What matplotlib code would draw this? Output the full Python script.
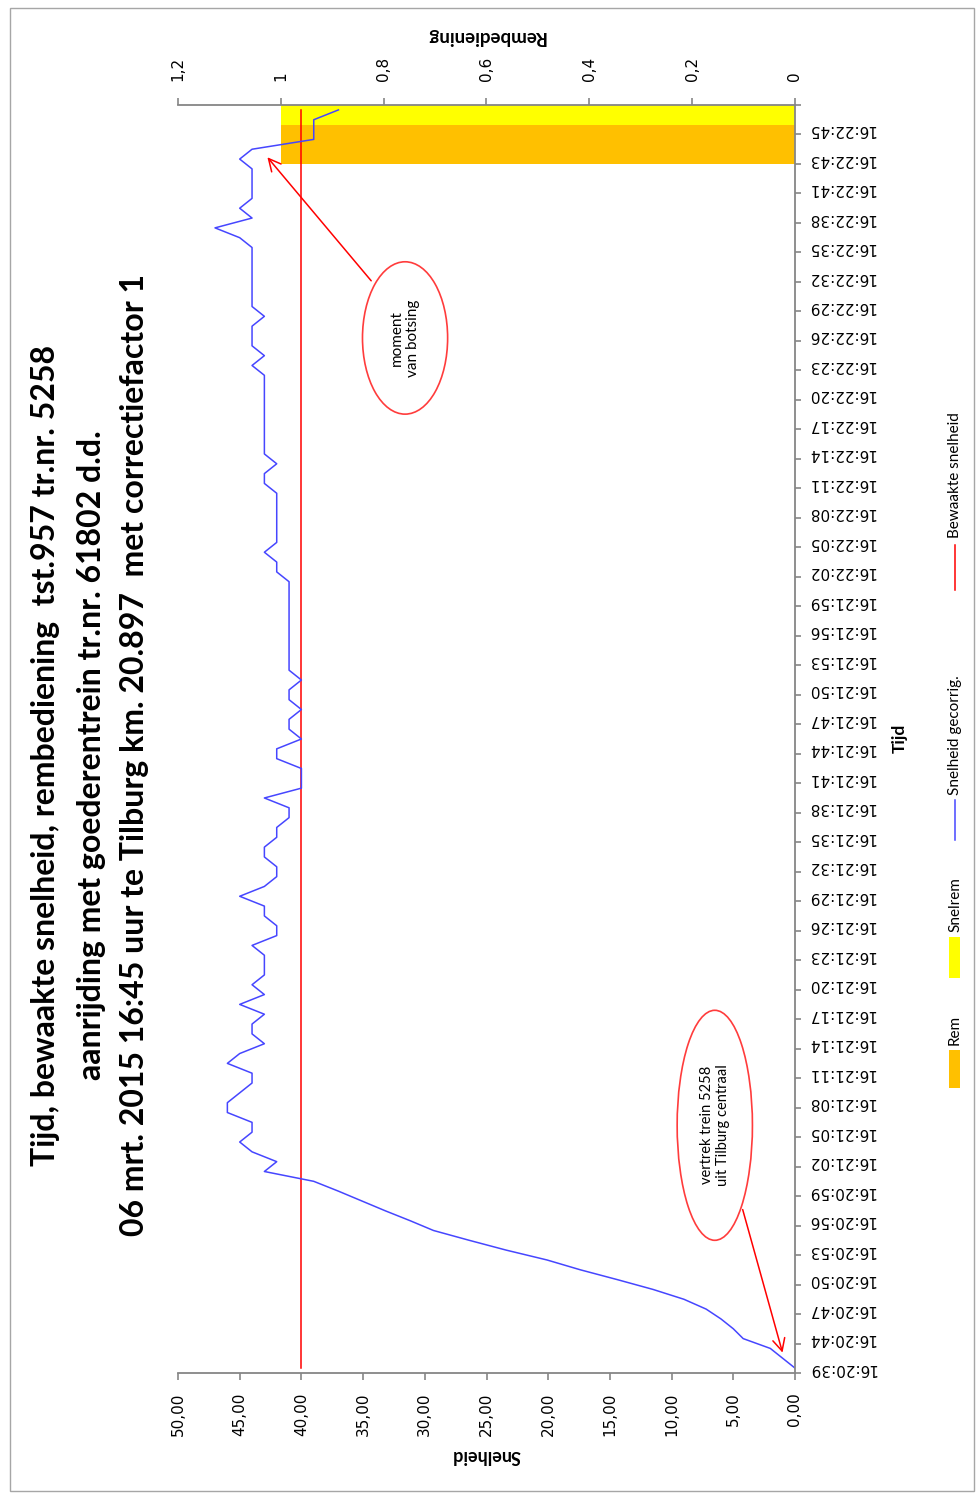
import matplotlib.pyplot as plt
from matplotlib.patches import Ellipse, Rectangle
from matplotlib.lines import Line2D
import numpy as np

# tijd-labels (elke 3e meting)
tijd_labels = ['16:20:39', '16:20:44', '16:20:47', '16:20:50', '16:20:53', '16:20:56', '16:20:59',
               '16:21:02', '16:21:05', '16:21:08', '16:21:11', '16:21:14', '16:21:17', '16:21:20',
               '16:21:23', '16:21:26', '16:21:29', '16:21:32', '16:21:35', '16:21:38', '16:21:41',
               '16:21:44', '16:21:47', '16:21:50', '16:21:53', '16:21:56', '16:21:59',
               '16:22:02', '16:22:05', '16:22:08', '16:22:11', '16:22:14', '16:22:17', '16:22:20',
               '16:22:23', '16:22:26', '16:22:29', '16:22:32', '16:22:35', '16:22:38', '16:22:41',
               '16:22:43', '16:22:45']

# snelheid gecorrigeerd, per meting
snelheid = [
    0.0, 1.0, 2.0, 4.2, 5.0, 6.0, 7.2, 9.0, 11.5, 14.4,
    17.4, 20.1, 23.4, 26.4, 29.3, 31.2, 33.2, 35.1, 37.0, 39.0,
    43, 42, 44, 45, 44, 44, 46, 46, 45, 44,
    44, 46, 45, 43, 44, 44, 43, 45, 43, 44,
    43, 43, 43, 44, 42, 42, 43, 43, 45, 43,
    42, 42, 43, 43, 42, 42, 41, 41, 43, 40,
    40, 40, 42, 42, 40, 41, 41, 40, 41, 41,
    40, 41, 41, 41, 41, 41, 41, 41, 41, 41,
    41, 42, 42, 43, 42, 42, 42, 42, 42, 42,
    43, 43, 42, 43, 43, 43, 43, 43, 43, 43,
    43, 43, 44, 43, 44, 44, 44, 43, 44, 44,
    44, 44, 44, 44, 44, 45, 47, 44, 45, 44,
    44, 44, 44, 45, 44, 39, 39, 39, 37,
]
bewaakt = [40.0] * len(snelheid)

# rembediening
rem_cat = [123, 124, 125, 126]
rem_val = [1, 1, 1, 1]
snelrem_cat = [127, 128]
snelrem_val = [1, 1]

snelheid_ticks = [0, 5, 10, 15, 20, 25, 30, 35, 40, 45, 50]
rem_ticks = [0, 0.2, 0.4, 0.6, 0.8, 1.0, 1.2]
rem_ticklabels = ['0', '0,2', '0,4', '0,6', '0,8', '1', '1,2']

W, H = 976, 1494


def fx(x):
    return x / W


def fy(y):
    return 1 - y / H


GRIJS = '#868686'
ORANJE = '#FFC000'
GEEL = '#FFFF00'
BLAUW = '#4646FF'
ROOD = '#FF0000'
FONT = ['Lato', 'DejaVu Sans']

fig = plt.figure(figsize=(W / 100, H / 100), dpi=100)
fig.patch.set_facecolor('white')

ax = fig.add_axes([fx(178), fy(1373), fx(795) - fx(178), fy(105) - fy(1373)])
ax2 = ax.twiny()
ax.set_zorder(ax2.get_zorder() + 1)
ax.patch.set_visible(False)

cat = np.arange(len(snelheid))

# balken rembediening (secundaire as)
ax2.barh(rem_cat, rem_val, height=1.0, color=ORANJE, linewidth=0)
ax2.barh(snelrem_cat, snelrem_val, height=1.0, color=GEEL, linewidth=0)
ax2.set_xlim(1.2, 0)
ax2.set_xticks(rem_ticks)
ax2.set_xticklabels(rem_ticklabels, rotation=90)

# lijnen snelheid
ax.plot(bewaakt, cat, color=ROOD, lw=1.1)
ax.plot(snelheid, cat, color=BLAUW, lw=1.1)
ax.set_xlim(50, 0)
ax.set_ylim(-0.5, len(snelheid) - 0.5)
ax.set_xticks(snelheid_ticks)
ax.set_xticklabels(['%d,00' % t for t in snelheid_ticks], rotation=90)

ax.yaxis.tick_right()
ax.set_yticks(np.arange(-0.5, len(snelheid), 3))
ax.set_yticklabels([])
ax.set_yticks(np.arange(0, len(snelheid), 3), minor=True)
ax.set_yticklabels(tijd_labels, minor=True, rotation=180, va='center')

for s in ['top', 'left']:
    ax.spines[s].set_visible(False)
for s in ['bottom', 'left', 'right']:
    ax2.spines[s].set_visible(False)
for sp in [ax.spines['bottom'], ax.spines['right'], ax2.spines['top']]:
    sp.set_color(GRIJS)
    sp.set_linewidth(1.3)

ax.tick_params(axis='x', direction='out', length=5, width=1.2, color=GRIJS, pad=9, labelsize=11)
ax.tick_params(axis='y', which='major', direction='out', length=4, width=1.2, color=GRIJS)
ax.tick_params(axis='y', which='minor', length=0, pad=9, labelsize=11)
ax2.tick_params(axis='x', direction='out', length=5, width=1.2, color=GRIJS, pad=12, labelsize=11)

# annotaties
e1 = Ellipse((31.6, 104.8), 6.9, 15.5, fill=False, edgecolor='#FF3C3C', lw=1.2, clip_on=False)
ax.add_patch(e1)
ax.text(31.6, 104.8, 'moment\nvan botsing', rotation=90, ha='center', va='center',
        multialignment='center', fontsize=11, family=FONT, linespacing=1.15)
ax.annotate('', xy=(42.9, 123.4), xytext=(34.2, 110.4),
            arrowprops=dict(arrowstyle='->', color=ROOD, lw=1.1, mutation_scale=22))

e2 = Ellipse((6.5, 24.7), 6.1, 23.4, fill=False, edgecolor='#FF3C3C', lw=1.2, clip_on=False)
ax.add_patch(e2)
ax.text(6.5, 24.7, 'vertrek trein 5258\nuit Tilburg centraal', rotation=90, ha='center',
        va='center', multialignment='center', fontsize=10.5, family=FONT, linespacing=1.15)
ax.annotate('', xy=(0.95, 1.3), xytext=(4.3, 16.4),
            arrowprops=dict(arrowstyle='->', color=ROOD, lw=1.1, mutation_scale=22))

# titel
titel = ['Tijd, bewaakte snelheid, rembediening  tst.957 tr.nr. 5258',
         'aanrijding met goederentrein tr.nr. 61802 d.d.',
         '06 mrt. 2015 16:45 uur te Tilburg km. 20.897  met correctiefactor 1']
for x, regel in zip([46, 92, 135], titel):
    fig.text(fx(x), fy(755), regel, rotation=90, ha='center', va='center',
             fontsize=23, fontweight='bold', family=FONT)

# aslabels
fig.text(fx(486), fy(1456), 'Snelheid', rotation=180, ha='center', va='center',
         fontsize=13, fontweight='bold', family=FONT)
fig.text(fx(486), fy(36), 'Rembediening', rotation=180, ha='center', va='center',
         fontsize=13.5, fontweight='bold', family=FONT)
fig.text(fx(900), fy(738), 'Tijd', rotation=90, ha='center', va='center',
         fontsize=12.5, fontweight='bold', family=FONT)

# legenda
fig.add_artist(Rectangle((fx(949), fy(1088)), fx(11), fy(1050) - fy(1088),
                         transform=fig.transFigure, color=ORANJE, lw=0))
fig.text(fx(955), fy(1045), 'Rem', rotation=90, rotation_mode='anchor', ha='left', va='center',
         fontsize=11, family=FONT)
fig.add_artist(Rectangle((fx(949), fy(978)), fx(11), fy(937) - fy(978),
                         transform=fig.transFigure, color=GEEL, lw=0))
fig.text(fx(955), fy(932), 'Snelrem', rotation=90, rotation_mode='anchor', ha='left', va='center',
         fontsize=11, family=FONT)
fig.add_artist(Line2D([fx(955), fx(955)], [fy(840), fy(800)], transform=fig.transFigure,
                      color=BLAUW, lw=1.1))
fig.text(fx(955), fy(795), 'Snelheid gecorrig.', rotation=90, rotation_mode='anchor', ha='left',
         va='center', fontsize=11, family=FONT)
fig.add_artist(Line2D([fx(955), fx(955)], [fy(590), fy(545)], transform=fig.transFigure,
                      color=ROOD, lw=1.1))
fig.text(fx(955), fy(538), 'Bewaakte snelheid', rotation=90, rotation_mode='anchor', ha='left',
         va='center', fontsize=11, family=FONT)

# kader
fig.add_artist(Rectangle((fx(10), fy(1491)), fx(964), fy(8) - fy(1491), transform=fig.transFigure,
                         fill=False, edgecolor='#A6A6A6', lw=1.0))

fig.savefig('out.png', dpi=100, facecolor='white')
